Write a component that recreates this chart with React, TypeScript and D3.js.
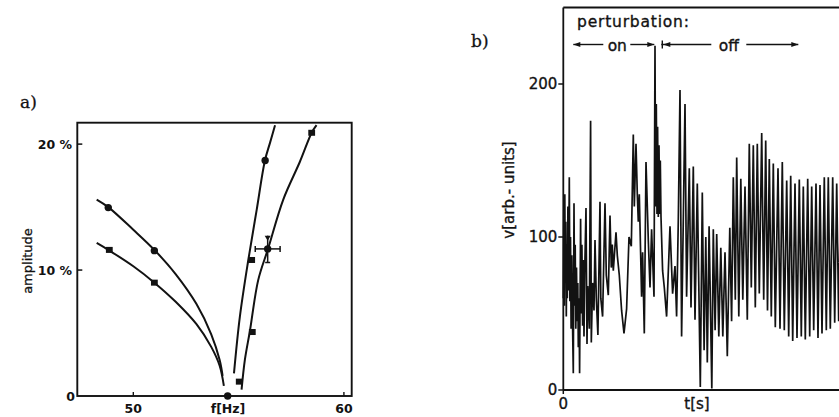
import React from 'react';
import * as d3 from 'd3';

// ---------- Panel a data (frequency in Hz, amplitude in %) ----------
const upperLeftF = [48.26, 48.81, 50.0, 51.0, 52.0, 53.0, 53.7, 54.1, 54.24];
const upperLeftA = [15.6, 15.0, 13.2, 11.6, 9.7, 7.3, 4.9, 2.85, 1.6];
const lowerLeftF = [48.26, 48.86, 50.0, 51.0, 52.0, 53.0, 53.7, 54.1, 54.3];
const lowerLeftA = [12.15, 11.55, 10.3, 9.0, 7.5, 5.7, 3.9, 2.4, 0.8];
const steepRightF = [54.78, 55.06, 55.46, 55.86, 56.25, 56.49, 56.73];
const steepRightA = [1.8, 6.3, 10.8, 14.8, 18.7, 20.1, 21.5];
const flatRightF = [55.14, 55.3, 55.54, 55.93, 56.4, 57.12, 57.91, 58.47, 58.7];
const flatRightA = [0.5, 2.9, 5.2, 9.2, 11.7, 15.6, 18.6, 20.9, 21.5];
const circleF = [48.81, 51.0, 56.26, 54.48];
const circleA = [14.96, 11.54, 18.7, 0];
const squareF = [48.86, 51.0, 55.62, 55.03, 55.65, 58.47];
const squareA = [11.6, 9.0, 10.8, 1.14, 5.08, 20.9];
const errPointF = [56.38];
const errPointA = [11.68];
const errHalfF = [0.59];
const errLowA = [10.6];
const errHighA = [12.73];
const freqTicks = [50, 60];
const ampTicks = [10, 20];
const ampTickLabels = ['10 %', '20 %'];

// ---------- Panel b data (time, arbitrary units; velocity) ----------
const sigT = [
  0, 0.5, 1.0, 1.5, 2.0, 2.5, 3.0, 3.5, 4.0, 4.6, 5.2, 6.0, 6.6, 7.2, 7.8, 8.5, 9.2, 10.0, 10.7, 11.3,
  11.9, 12.5, 13.2, 13.9, 14.5, 15.0, 15.7, 16.3, 17.3, 18.0, 18.6, 19.3, 20.0, 20.7, 21.5, 22.7, 23.7, 24.4,
  25.0, 26.0,
  27.3, 28.0, 29.3, 30.7, 31.7, 33.0, 34.6, 36.7, 37.5, 39.3, 41.7, 43.0, 45.0, 46.7, 48.0, 49.0, 50.0,
  52.7, 54.0, 56.0, 58.3, 60.7, 63.3, 65.7, 68.0,
  70, 71, 72.7, 74, 75, 76, 78.3, 79.3, 81, 82.7, 85, 86.7, 88.3, 90.7, 91.7, 92.3, 93, 93.7, 94.3, 95, 95.7,
  96.3, 97, 97.7, 99.3, 101, 103.3, 106.7, 109.3, 111.7, 113.3, 115, 116.7, 118.3, 121.7, 123.3, 126, 127.7,
  130, 131.7, 134, 137, 139, 140.8, 142.5, 144, 145.8, 148.5, 150, 151.8, 153.4, 155.5, 157.5, 159.5, 161.7,
  164, 166.5, 168.3, 170, 172, 173.4, 175.5, 177.5, 179.5, 181.7, 184, 186, 188, 190, 192, 194, 196, 198.4,
  200.4, 202.4, 204.2, 206, 208, 210, 212, 214.7, 216.7, 219, 221, 223.4, 225.4, 227.4, 229.4, 231.7, 233.7,
  236, 238, 240, 242, 244.4, 246.4, 248.4, 250.4, 252.7, 254.7, 256.7, 258.7, 261, 263, 265, 267, 269.4,
  271.4, 273.4, 275.4, 277.4, 279.4
];
const sigV = [
  60, 118, 55, 128, 70, 110, 48, 95, 60, 120, 65, 139, 58, 100, 40, 88, 45, 11, 122, 55,
  95, 40, 80, 45, 70, 28, 60, 11, 112, 50, 95, 42, 85, 35, 80, 119, 30, 68,
  60, 40,
  176, 31, 70, 52, 98, 60, 36, 123, 60, 48, 122, 75, 62, 114, 80, 95, 78,
  103, 88, 75, 52, 37, 53, 100, 94,
  167, 120, 161, 128, 110, 128, 61, 90, 37, 149, 98, 67, 105, 61, 225, 120, 187, 115, 172, 113, 160,
  115, 150, 113, 78, 67, 48, 107, 63, 81, 48, 111, 196, 35, 187, 61, 145, 54,
  146, 46, 135, 2, 129, 26, 100, 18, 107, 1, 105, 39, 102, 35, 93, 35, 90,
  22, 106, 45, 139, 59, 152, 48, 138, 59, 133, 46, 161, 67, 160, 54, 161, 63, 168,
  59, 163, 52, 151, 48, 148, 41, 145, 40, 149, 39, 137, 35, 140, 32, 135, 34,
  137.6, 35, 133, 33, 138, 35, 133, 39, 135, 34, 134, 37, 139, 39, 139, 40, 139,
  44, 135, 45, 135, 45
];
const vTicks = [0, 100, 200];
const onOffSplit = [92];

const INK = '#121212';

export default function App() {
  // Panel a scales
  const xA = d3.scaleLinear().domain([47.34, 60.37]).range([77.3, 351.7]);
  const yA = d3.scaleLinear().domain([0, 21.7]).range([396, 122.7]);
  const lineA = (fs: number[], as: number[]) =>
    d3.line<number>().x((_, i) => xA(fs[i])).y((_, i) => yA(as[i])).curve(d3.curveCatmullRom.alpha(0.5))(fs) || '';

  // Panel b scales
  const xB = d3.scaleLinear().domain([0, 276]).range([563.3, 839.3]);
  const yB = d3.scaleLinear().domain([0, 250]).range([390, 7.5]);
  const sigPath = d3.line<number>().x((_, i) => xB(sigT[i])).y((_, i) => yB(sigV[i]))(sigT) || '';

  const ex = xA(errPointF[0]);
  const ey = yA(errPointA[0]);
  const exl = xA(errPointF[0] - errHalfF[0]);
  const exr = xA(errPointF[0] + errHalfF[0]);
  const eyt = yA(errHighA[0]);
  const eyb = yA(errLowA[0]);

  const arrowY = 44.5;
  const split = xB(onOffSplit[0]);
  const sans = '"DejaVu Sans", Verdana, sans-serif';
  const txtB = { fontFamily: sans, fontSize: 15.5, fill: INK, stroke: INK, strokeWidth: 0.35 } as const;

  return (
    <svg width={839} height={417} style={{ position: 'absolute', left: 0, top: 0, background: '#fff' }}>
      <rect x={0} y={0} width={839} height={417} fill="#fff" />
      {/* ---------- Panel a ---------- */}
      <text x={20} y={108} fontFamily='"DejaVu Serif", serif' fontSize={17} fill={INK} stroke={INK} strokeWidth={0.3}>a)</text>
      <rect x={xA.range()[0]} y={yA.range()[1]} width={xA.range()[1] - xA.range()[0]} height={yA.range()[0] - yA.range()[1]}
        fill="none" stroke={INK} strokeWidth={1.9} />
      {ampTicks.map((t) => (
        <line key={'at' + t} x1={xA.range()[0]} x2={xA.range()[0] + 5} y1={yA(t)} y2={yA(t)} stroke={INK} strokeWidth={1.5} />
      ))}
      {freqTicks.map((t) => (
        <line key={'ft' + t} x1={xA(t)} x2={xA(t)} y1={yA(0)} y2={yA(0) - 4} stroke={INK} strokeWidth={1.4} />
      ))}
      {ampTicks.map((t, i) => (
        <text key={'al' + t} x={72} y={yA(t)} dy="0.36em" textAnchor="end" fontFamily={sans} fontWeight="bold" fontSize={12.5} fill={INK}>
          {ampTickLabels[i]}
        </text>
      ))}
      <text x={75} y={yA(0)} dy="0.36em" textAnchor="end" fontFamily={sans} fontWeight="bold" fontSize={12.5} fill={INK}>0</text>
      {freqTicks.map((t) => (
        <text key={'fl' + t} x={xA(t)} y={408.5} dy="0.36em" textAnchor="middle" fontFamily={sans} fontWeight="bold" fontSize={12.5} fill={INK}>
          {t}
        </text>
      ))}
      <text x={228} y={408.5} dy="0.36em" textAnchor="middle" fontFamily={sans} fontWeight="bold" fontSize={12.5} fill={INK}>f[Hz]</text>
      <text transform="translate(32,261) rotate(-90)" textAnchor="middle" fontFamily={sans} fontSize={13} fill={INK} stroke={INK} strokeWidth={0.3}>amplitude</text>

      <g fill="none" stroke={INK} strokeWidth={2}>
        <path d={lineA(upperLeftF, upperLeftA)} />
        <path d={lineA(lowerLeftF, lowerLeftA)} />
        <path d={lineA(steepRightF, steepRightA)} />
        <path d={lineA(flatRightF, flatRightA)} />
      </g>
      {circleF.map((f, i) => (
        <circle key={'c' + i} cx={xA(f)} cy={yA(circleA[i])} r={3.7} fill={INK} />
      ))}
      {squareF.map((f, i) => (
        <rect key={'s' + i} x={xA(f) - 3.4} y={yA(squareA[i]) - 3} width={6.8} height={6} fill={INK} />
      ))}
      {/* error-bar point */}
      <g stroke={INK} strokeWidth={1.5}>
        <line x1={exl} x2={exr} y1={ey} y2={ey} />
        <line x1={exl} x2={exl} y1={ey - 3} y2={ey + 3} />
        <line x1={exr} x2={exr} y1={ey - 3} y2={ey + 3} />
        <line x1={ex} x2={ex} y1={eyt} y2={eyb} />
        <line x1={ex - 2.5} x2={ex + 2.5} y1={eyb} y2={eyb} />
      </g>
      <path d={`M${ex - 3},${eyt} L${ex + 3},${eyt} L${ex},${eyt + 5} Z`} fill={INK} />
      <circle cx={ex} cy={ey} r={3.7} fill={INK} />

      {/* ---------- Panel b ---------- */}
      <text x={471} y={47} fontFamily='"DejaVu Serif", serif' fontSize={17} fill={INK} stroke={INK} strokeWidth={0.3}>b)</text>
      <g stroke={INK} strokeWidth={1.8} fill="none">
        <line x1={xB(0)} x2={xB(0)} y1={yB(250)} y2={yB(0)} />
        <line x1={xB(0)} x2={845} y1={yB(250)} y2={yB(250)} />
        <line x1={xB(0)} x2={845} y1={yB(0)} y2={yB(0)} />
      </g>
      {vTicks.map((t) => (
        <line key={'vt' + t} x1={xB(0) - 5} x2={xB(0)} y1={yB(t)} y2={yB(t)} stroke={INK} strokeWidth={1.5} />
      ))}
      <line x1={xB(0)} x2={xB(0)} y1={yB(0)} y2={yB(0) + 4} stroke={INK} strokeWidth={1.5} />
      {vTicks.map((t) => (
        <text key={'vl' + t} x={xB(0) - 6} y={yB(t)} dy="0.36em" textAnchor="end" {...txtB} fontSize={15}>
          {t}
        </text>
      ))}
      <text x={xB(0)} y={404} dy="0.36em" textAnchor="middle" {...txtB} fontSize={15}>0</text>
      <text x={697} y={404} dy="0.36em" textAnchor="middle" {...txtB} fontSize={15}>t[s]</text>
      <text transform="translate(514,190) rotate(-90)" textAnchor="middle" {...txtB} fontSize={15}>v[arb.- units]</text>

      <path d={sigPath} fill="none" stroke={INK} strokeWidth={1.7} strokeLinejoin="miter" strokeMiterlimit={3} />

      {/* perturbation annotation */}
      <text x={577} y={27} {...txtB} letterSpacing={0.8}>perturbation:</text>
      <g stroke={INK} strokeWidth={1.4}>
        <line x1={xB(10)} x2={xB(40)} y1={arrowY} y2={arrowY} />
        <line x1={xB(67)} x2={split - 1} y1={arrowY} y2={arrowY} />
        <line x1={split + 6} x2={xB(148)} y1={arrowY} y2={arrowY} />
        <line x1={xB(183)} x2={xB(235)} y1={arrowY} y2={arrowY} />
        <line x1={split + 7} x2={split + 7} y1={arrowY - 4} y2={arrowY + 4} />
      </g>
      <g fill={INK}>
        <path d={`M${xB(10)},${arrowY} l7,-2.5 l0,5 Z`} />
        <path d={`M${split - 1},${arrowY} l-7,-2.5 l0,5 Z`} />
        <path d={`M${split + 8},${arrowY} l7,-2.5 l0,5 Z`} />
        <path d={`M${xB(235)},${arrowY} l-7,-2.5 l0,5 Z`} />
      </g>
      <text x={xB(54)} y={50.5} textAnchor="middle" {...txtB}>on</text>
      <text x={xB(165.5)} y={50.5} textAnchor="middle" {...txtB}>off</text>
    </svg>
  );
}
